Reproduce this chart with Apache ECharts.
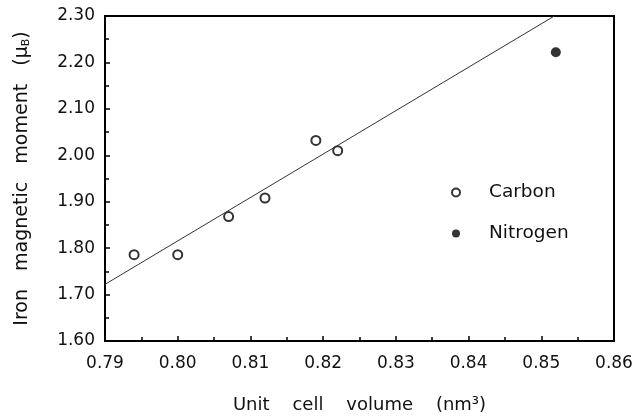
<!DOCTYPE html>
<html>
<head>
<meta charset="utf-8">
<script src="https://cdn.jsdelivr.net/npm/echarts@6/dist/echarts.min.js"></script>
<style>
  html, body { margin: 0; padding: 0; background: #fff; }
  #chart { width: 636px; height: 416px; }
</style>
</head>
<body>
<div id="chart"></div>
<script>
// data
const carbonVolume = [0.794, 0.800, 0.807, 0.812, 0.819, 0.822];
const carbonMoment = [1.786, 1.786, 1.868, 1.908, 2.032, 2.010];
const nitrogenVolume = [0.852];
const nitrogenMoment = [2.222];
const fitVolume = [0.790, 0.8518];
const fitMoment = [1.722, 2.300];

const FONT = 'DejaVu Sans';
const zip = (a, b) => a.map((v, i) => [v, b[i]]);

const chart = echarts.init(document.getElementById('chart'), null, { renderer: 'canvas' });

chart.setOption({
  backgroundColor: '#fff',
  animation: false,
  grid: {
    left: 105, right: 22, top: 16, bottom: 75,
    outerBoundsMode: 'none', containLabel: false,
    show: true, borderColor: '#000', borderWidth: 2
  },
  legend: {
    orient: 'vertical', left: 451, top: 183, padding: 0,
    itemGap: 22, itemWidth: 8, itemHeight: 8,
    data: ['Carbon', 'Nitrogen'],
    textStyle: { fontFamily: FONT, fontSize: 18.5, color: '#111', padding: [0, 0, 0, 24] }
  },
  xAxis: {
    type: 'value', min: 0.79, max: 0.86, interval: 0.01,
    name: 'Unit    cell    volume    (nm³)',
    nameLocation: 'middle', nameGap: 55,
    nameTextStyle: { fontFamily: FONT, fontSize: 18, color: '#111' },
    axisLine: { lineStyle: { color: '#000', width: 2 } },
    axisTick: { inside: true, length: 5, lineStyle: { color: '#000', width: 1.5 } },
    minorTick: { show: true, splitNumber: 2, length: 4, lineStyle: { color: '#000', width: 1.5 } },
    splitLine: { show: false },
    axisLabel: { fontFamily: FONT, fontSize: 17, color: '#111', margin: 14, formatter: v => v.toFixed(2) }
  },
  yAxis: {
    type: 'value', min: 1.6, max: 2.3, interval: 0.1,
    name: 'Iron   magnetic   moment   (μ{sub|B})',
    nameLocation: 'middle', nameGap: 73,
    nameTextStyle: {
      fontFamily: FONT, fontSize: 19, color: '#111',
      rich: { sub: { fontFamily: FONT, fontSize: 11, color: '#111', verticalAlign: 'bottom', padding: [9, 0, 0, 0] } }
    },
    axisLine: { lineStyle: { color: '#000', width: 2 } },
    axisTick: { inside: true, length: 5, lineStyle: { color: '#000', width: 1.5 } },
    minorTick: { show: true, splitNumber: 2, length: 4, lineStyle: { color: '#000', width: 1.5 } },
    splitLine: { show: false },
    axisLabel: { fontFamily: FONT, fontSize: 17, color: '#111', margin: 10, formatter: v => v.toFixed(2) }
  },
  series: [
    {
      name: 'fit', type: 'line', data: zip(fitVolume, fitMoment),
      symbol: 'none', silent: true,
      lineStyle: { color: '#333', width: 1 }
    },
    {
      name: 'Carbon', type: 'scatter', data: zip(carbonVolume, carbonMoment),
      symbol: 'emptyCircle', symbolSize: 9,
      itemStyle: { color: '#000', borderColor: '#000', borderWidth: 1.5 }
    },
    {
      name: 'Nitrogen', type: 'scatter', data: zip(nitrogenVolume, nitrogenMoment),
      symbol: 'circle', symbolSize: 10,
      itemStyle: { color: '#000' }
    }
  ]
});
</script>
</body>
</html>
